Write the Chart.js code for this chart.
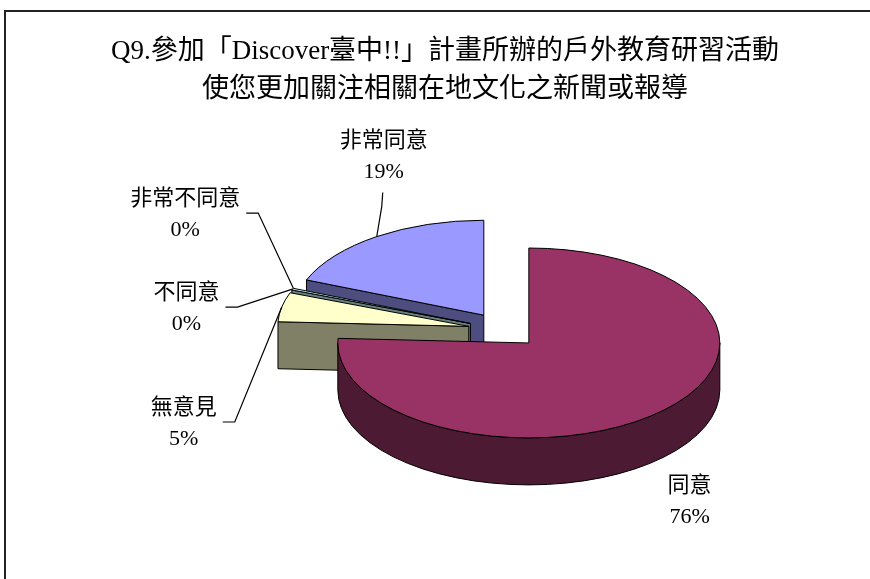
<!DOCTYPE html>
<html>
<head>
<meta charset="utf-8">
<script src="https://cdn.jsdelivr.net/npm/chart.js@4.4.1/dist/chart.umd.min.js"></script>
<style>
html, body { margin: 0; padding: 0; background: #fff; overflow: hidden; }
#frame { position: absolute; left: 4px; top: 10px; width: 900px; height: 700px; border-left: 2px solid #222; border-top: 2px solid #222; }
#pie { position: absolute; left: 0; top: 0; }
</style>
</head>
<body>
<div id="frame"></div>
<canvas id="pie" width="870" height="579"></canvas>
<script>
// dane
const titleLines = ['Q9.參加「Discover臺中!!」計畫所辦的戶外教育研習活動', '使您更加關注相關在地文化之新聞或報導'];
const categories = ['同意', '無意見', '不同意', '非常不同意', '非常同意'];
const values = [76, 5, 0.3, 0, 19];

// wygląd
const topColors = ['#993366', '#FFFFCC', '#CCFFFF', '#660066', '#9999FF'];
const sideColors = ['#4D1A33', '#808066', '#668080', '#330033', '#4D4D80'];
// label block centre relative to the rim point of the slice, leader side
const labelLayout = [
    { dx: 29, dy: 90, leader: 'none' },
    { dx: -98, dy: 117, leader: 'right' },
    { dx: -106, dy: 20, leader: 'right' },
    { dx: -108, dy: -73, leader: 'right' },
    { dx: 7, dy: -80, leader: 'bottom' }
];
const TILT = 0.497;     // squash of the pie plane
const DEPTH = 47;       // thickness in screen px
const EXPLODE = 36;
const FONT = '"Liberation Serif", "Noto Sans CJK TC", serif';

function squash(ctx, c) {
    ctx.translate(c.x, c.y);
    ctx.scale(1, TILT);
    ctx.translate(-c.x, -c.y);
}

function fillStroke(ctx, base, fill) {
    ctx.fillStyle = fill;
    ctx.fill();
    ctx.save();
    ctx.setTransform(base);
    ctx.lineWidth = 1;
    ctx.strokeStyle = '#000';
    ctx.stroke();
    ctx.restore();
}

const pie3d = {
    id: 'pie3d',
    afterDatasetsUpdate(chart) {
        const arcs = chart.getDatasetMeta(0).data;
        if (arcs.length) chart.$pieCenter = { x: arcs[0].x, y: arcs[0].y };
    },
    beforeDatasetsDraw(chart) {
        const ctx = chart.ctx;
        const c = chart.$pieCenter;
        const arcs = chart.getDatasetMeta(0).data;
        // rozsunięcie wycinków
        arcs.forEach(a => {
            const mid = (a.startAngle + a.endAngle) / 2;
            a.x = c.x + Math.cos(mid) * EXPLODE;
            a.y = c.y + Math.sin(mid) * EXPLODE;
        });
        const base = ctx.getTransform();
        const D = DEPTH / TILT;
        const order = arcs.map((a, i) => i)
            .filter(i => arcs[i].endAngle - arcs[i].startAngle > 0)
            .sort((i, j) => arcs[i].y - arcs[j].y);

        order.forEach(i => {
            const a = arcs[i];
            const R = a.outerRadius;
            const s = a.startAngle, e = a.endAngle;
            ctx.save();
            squash(ctx, c);
            // cut faces that look toward the viewer
            const faces = [];
            if (Math.cos(s) < -1e-6) faces.push(s);
            if (Math.cos(e) > 1e-6) faces.push(e);
            faces.forEach(phi => {
                const px = a.x + R * Math.cos(phi), py = a.y + R * Math.sin(phi);
                ctx.beginPath();
                ctx.moveTo(a.x, a.y);
                ctx.lineTo(px, py);
                ctx.lineTo(px, py + D);
                ctx.lineTo(a.x, a.y + D);
                ctx.closePath();
                fillStroke(ctx, base, sideColors[i]);
            });
            // front part of the rim
            for (let n = -1; n <= 1; n++) {
                const lo = Math.max(s, 2 * Math.PI * n);
                const hi = Math.min(e, Math.PI + 2 * Math.PI * n);
                if (hi <= lo) continue;
                ctx.beginPath();
                ctx.arc(a.x, a.y, R, lo, hi);
                ctx.lineTo(a.x + R * Math.cos(hi), a.y + R * Math.sin(hi) + D);
                ctx.arc(a.x, a.y + D, R, hi, lo, true);
                ctx.closePath();
                fillStroke(ctx, base, sideColors[i]);
            }
            ctx.restore();
        });
        // tops are drawn by Chart.js inside the squashed plane
        ctx.save();
        squash(ctx, c);
    },
    afterDatasetsDraw(chart) {
        const ctx = chart.ctx;
        ctx.restore();
        const c = chart.$pieCenter;
        const arcs = chart.getDatasetMeta(0).data;
        const base = ctx.getTransform();
        arcs.forEach(a => {
            if (a.endAngle - a.startAngle <= 0) return;
            ctx.save();
            squash(ctx, c);
            ctx.beginPath();
            ctx.moveTo(a.x, a.y);
            ctx.arc(a.x, a.y, a.outerRadius, a.startAngle, a.endAngle);
            ctx.closePath();
            ctx.setTransform(base);
            ctx.lineWidth = 1;
            ctx.strokeStyle = '#000';
            ctx.stroke();
            ctx.restore();
        });

        // etykiety
        const total = values.reduce((p, v) => p + v, 0);
        ctx.save();
        ctx.font = '22px ' + FONT;
        ctx.fillStyle = '#000';
        ctx.textAlign = 'center';
        ctx.textBaseline = 'middle';
        arcs.forEach((a, i) => {
            const mid = (a.startAngle + a.endAngle) / 2;
            const ax = a.x + a.outerRadius * Math.cos(mid);
            const ay = c.y + (a.y + a.outerRadius * Math.sin(mid) - c.y) * TILT;
            const L = labelLayout[i];
            const lx = ax + L.dx, ly = ay + L.dy;
            const name = categories[i];
            const pct = Math.round(values[i] / total * 100) + '%';
            ctx.fillText(name, lx, ly - 15.5);
            ctx.fillText(pct, lx, ly + 15.5);

            ctx.beginPath();
            if (L.leader === 'right') {
                const sx = lx + ctx.measureText(name).width / 2 + 6;
                ctx.moveTo(sx, ly - 2);
                ctx.lineTo(sx + 12, ly - 2);
                ctx.lineTo(ax, ay);
            } else if (L.leader === 'bottom') {
                ctx.moveTo(lx - 1, ly + 36);
                ctx.lineTo(lx - 2, ly + 50);
                ctx.lineTo(ax, ay);
            }
            ctx.lineWidth = 1.2;
            ctx.strokeStyle = '#000';
            ctx.stroke();
        });
        ctx.restore();
    },
    afterDraw(chart) {
        const ctx = chart.ctx;
        ctx.save();
        ctx.font = '27px ' + FONT;
        ctx.fillStyle = '#000';
        ctx.textAlign = 'center';
        ctx.textBaseline = 'middle';
        titleLines.forEach((t, i) => ctx.fillText(t, 445, 52 + i * 38));
        ctx.restore();
    }
};

const pieChart = new Chart(document.getElementById('pie'), {
    type: 'pie',
    data: {
        labels: categories,
        datasets: [{
            data: values,
            backgroundColor: topColors,
            borderWidth: 0,
            clip: false
        }]
    },
    options: {
        responsive: false,
        animation: false,
        events: [],
        radius: 191,
        layout: { padding: { left: 138, right: 0, top: 81, bottom: 0 } },
        plugins: {
            legend: { display: false },
            tooltip: { enabled: false },
            title: { display: false }
        }
    },
    plugins: [pie3d]
});
</script>
</body>
</html>
